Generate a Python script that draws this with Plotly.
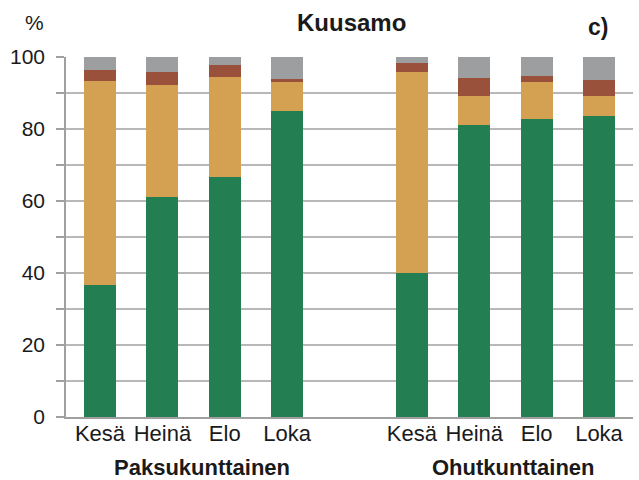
import plotly.graph_objects as go

months = ["Kesä", "Heinä", "Elo", "Loka"]
groups = ["Paksukunttainen", "Ohutkunttainen"]
positions = [0, 1, 2, 3, 5, 6, 7, 8]
tick_labels = months + months

green = [36.8, 61.1, 66.6, 85.0, 40.0, 81.1, 82.7, 83.5]
orange = [56.5, 31.0, 27.8, 8.0, 55.8, 8.0, 10.3, 5.6]
brown = [3.0, 3.7, 3.3, 0.8, 2.5, 5.0, 1.7, 4.4]
gray = [3.7, 4.2, 2.3, 6.2, 1.7, 5.9, 5.3, 6.5]

series = [
    ("green", green, "#237F52"),
    ("orange", orange, "#D4A152"),
    ("brown", brown, "#99513B"),
    ("gray", gray, "#9D9EA0"),
]

FONT = "Liberation Sans, Arial, sans-serif"

fig = go.Figure()
for name, vals, col in series:
    fig.add_trace(go.Bar(x=positions, y=vals, name=name, marker=dict(color=col, line=dict(width=0)),
                         width=0.51, showlegend=False))

y_ticks = list(range(0, 101, 10))
y_text = [str(v) if v % 20 == 0 else "" for v in y_ticks]

fig.update_layout(
    barmode="stack",
    width=639, height=480,
    margin=dict(l=66, r=6, t=57, b=63),
    paper_bgcolor="white", plot_bgcolor="white",
    font=dict(family=FONT, size=20, color="#1a1a1a"),
    xaxis=dict(range=[-0.545, 8.545], tickvals=positions, ticktext=tick_labels,
               showgrid=False, zeroline=False, showline=True, linecolor="#a0a0a0", linewidth=1.5,
               ticks="", ticklabelstandoff=-4, tickfont=dict(size=22, color="#1a1a1a")),
    yaxis=dict(range=[0, 100], tickvals=y_ticks, ticktext=y_text,
               showgrid=True, gridcolor="#b8b8b8", gridwidth=1.5, zeroline=False,
               showline=True, linecolor="#a0a0a0", linewidth=1.5,
               ticks="outside", ticklen=8, tickcolor="#a0a0a0", tickwidth=1.5,
               ticklabelstandoff=7, tickfont=dict(size=21, color="#1a1a1a")),
    annotations=[
        dict(text="<b>Kuusamo</b>", xref="paper", yref="paper", x=0.503, y=1.097,
             xanchor="center", yanchor="middle", showarrow=False, font=dict(size=24)),
        dict(text="<b>c)</b>", xref="paper", yref="paper", x=0.938, y=1.083,
             xanchor="center", yanchor="middle", showarrow=False, font=dict(size=23)),
        dict(text="%", xref="paper", yref="paper", x=-0.056, y=1.097,
             xanchor="center", yanchor="middle", showarrow=False, font=dict(size=21)),
        dict(text="<b>" + groups[0] + "</b>", xref="paper", yref="paper", x=0.24, y=-0.139,
             xanchor="center", yanchor="middle", showarrow=False, font=dict(size=22)),
        dict(text="<b>" + groups[1] + "</b>", xref="paper", yref="paper", x=0.79, y=-0.139,
             xanchor="center", yanchor="middle", showarrow=False, font=dict(size=22)),
    ],
)

fig.write_html("out.html", config={"displayModeBar": False},
               post_script="document.body.style.margin='0px';")
